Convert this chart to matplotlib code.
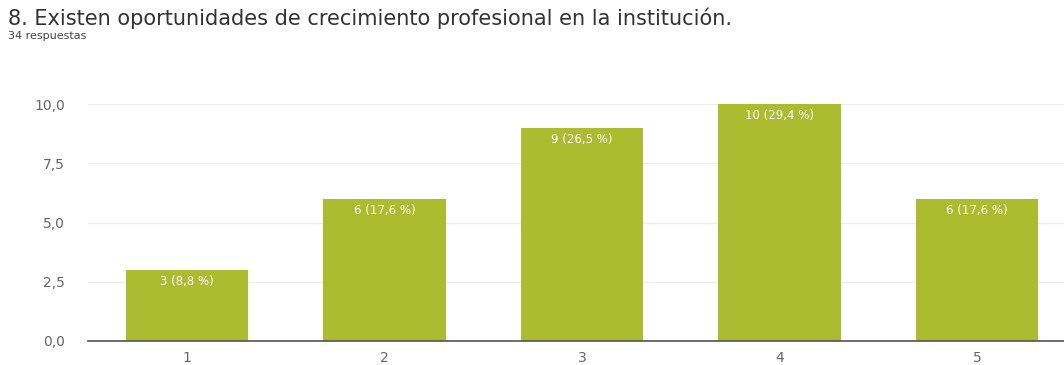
import matplotlib
matplotlib.use("Agg")
import matplotlib.pyplot as plt

categories = ["1", "2", "3", "4", "5"]
counts = [3, 6, 9, 10, 6]
labels = ["3 (8,8 %)", "6 (17,6 %)", "9 (26,5 %)", "10 (29,4 %)", "6 (17,6 %)"]
yticks = [0.0, 2.5, 5.0, 7.5, 10.0]
ytick_labels = ["0,0", "2,5", "5,0", "7,5", "10,0"]

plt.rcParams["font.family"] = "DejaVu Sans"

W, H = 1064, 365
fig = plt.figure(figsize=(W / 100, H / 100), dpi=100)
fig.patch.set_facecolor("white")

# plot area: x 88..1076 px, y 104..341 px
left, right = 88, 1076
top, bottom = 104, 341
ax = fig.add_axes([left / W, 1 - bottom / H, (right - left) / W, (bottom - top) / H])

x = list(range(len(categories)))
bar_color = "#abbc2f"
ax.bar(x, counts, width=0.62, color=bar_color, zorder=2)

for xi, v, lab in zip(x, counts, labels):
    ax.annotate(lab, (xi, v), xytext=(0, -3.5), textcoords="offset points",
                ha="center", va="top", color="white", fontsize=8.5, zorder=3)

ax.set_xlim(-0.5, len(categories) - 0.5)
ax.set_ylim(0, 10)
ax.set_yticks(yticks)
ax.set_yticklabels(ytick_labels)
ax.set_xticks(x)
ax.set_xticklabels(categories)
ax.grid(axis="y", color="#eeeeee", linewidth=1, zorder=0)
for s in ["top", "right", "left"]:
    ax.spines[s].set_visible(False)
ax.spines["bottom"].set_color("#555555")
ax.spines["bottom"].set_linewidth(1.2)
ax.tick_params(axis="both", length=0, colors="#666666", labelsize=10)
ax.tick_params(axis="y", pad=16.5)
ax.tick_params(axis="x", pad=7)

fig.text(8 / W, 1 - 18 / H, "8. Existen oportunidades de crecimiento profesional en la institución.",
         fontsize=15, color="#333333", va="center", ha="left")
fig.text(8 / W, 1 - 36 / H, "34 respuestas", fontsize=8, color="#444444",
         va="center", ha="left")

fig.savefig("out.png", dpi=100, facecolor="white")
